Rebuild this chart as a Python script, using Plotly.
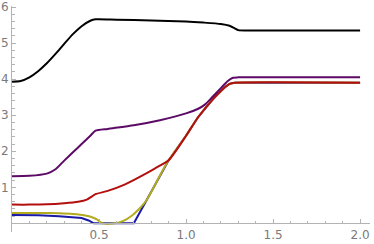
import plotly.graph_objects as go

# ---- data ----
x_blue = [0, 0.15, 0.27, 0.35, 0.4, 0.44, 0.47, 0.7, 0.77, 0.82, 0.86, 0.9, 1.0, 1.07, 1.15, 1.22, 1.25, 1.28, 2.0]
y_blue = [0.23, 0.225, 0.2, 0.18, 0.15, 0.08, 0.0, 0.0, 0.62, 1.05, 1.42, 1.75, 2.43, 2.95, 3.42, 3.76, 3.87, 3.9, 3.9]

x_yellow = [0, 0.15, 0.27, 0.35, 0.42, 0.46, 0.49, 0.52, 0.59, 0.64, 0.69, 0.73, 0.77, 0.82, 0.86, 0.9,
            1.0, 1.07, 1.15, 1.22, 1.25, 1.28, 2.0]
y_yellow = [0.29, 0.29, 0.28, 0.26, 0.22, 0.17, 0.1, 0.0, 0.0, 0.07, 0.22, 0.4, 0.62, 1.05, 1.42, 1.75,
            2.43, 2.95, 3.42, 3.76, 3.87, 3.9, 3.9]

x_red = [0, 0.1, 0.2, 0.3, 0.38, 0.43, 0.46, 0.48, 0.55, 0.65, 0.75, 0.82, 0.9, 1.0, 1.07, 1.15, 1.22, 1.25, 1.28, 2.0]
y_red = [0.52, 0.52, 0.53, 0.56, 0.6, 0.66, 0.75, 0.81, 0.9, 1.08, 1.33, 1.52, 1.75, 2.43, 2.95, 3.42, 3.76, 3.87, 3.9, 3.9]

x_purple = [0, 0.1, 0.2, 0.25, 0.3, 0.35, 0.4, 0.45, 0.48, 0.55, 0.7, 0.85, 1.0, 1.07, 1.11, 1.15, 1.2, 1.24, 1.27, 1.3, 2.0]
y_purple = [1.31, 1.32, 1.38, 1.5, 1.74, 1.97, 2.2, 2.43, 2.57, 2.62, 2.72, 2.86, 3.05, 3.18, 3.3, 3.5, 3.75, 3.95, 4.04, 4.05, 4.05]

x_black = [0, 0.05, 0.1, 0.15, 0.2, 0.25, 0.3, 0.35, 0.4, 0.45, 0.48, 0.6, 0.8, 1.0, 1.1, 1.2, 1.25, 1.28, 1.3, 1.35, 2.0]
y_black = [3.93, 3.95, 4.05, 4.22, 4.44, 4.7, 4.98, 5.25, 5.47, 5.62, 5.66, 5.65, 5.63, 5.6, 5.57, 5.53, 5.48, 5.41, 5.36, 5.35, 5.35]

x_tickvals = [0.5, 1.0, 1.5, 2.0]
x_ticktext = ["0.5", "1.0", "1.5", "2.0"]
y_tickvals = [1, 2, 3, 4, 5, 6]
y_ticktext = ["1", "2", "3", "4", "5", "6"]

series = [
    (x_blue, y_blue, "#1a1aa6", "linear"),
    (x_yellow, y_yellow, "#b3ab1f", "spline"),
    (x_red, y_red, "#b30f0f", "spline"),
    (x_purple, y_purple, "#5c0a66", "spline"),
    (x_black, y_black, "#000000", "spline"),
]

fig = go.Figure()
for xs, ys, col, shp in series:
    fig.add_trace(go.Scatter(x=xs, y=ys, mode="lines",
                             line=dict(color=col, width=2, shape=shp, smoothing=0.6)))

ymin, ymax = -0.24, 6.03
axcol = "#b3b3b3"
lblfont = dict(family="DejaVu Sans", size=12, color="#7a7a7a")

x_minor = [round(i * 0.1, 2) for i in range(1, 21) if i % 5 != 0]
y_minor = [round(i * 0.2, 2) for i in range(1, 31) if i % 5 != 0]

fig.update_layout(
    width=374, height=244,
    margin=dict(l=12, r=4, t=6, b=12),
    plot_bgcolor="white", paper_bgcolor="white",
    showlegend=False,
    xaxis=dict(range=[0, 2.057], showgrid=False, zeroline=False, automargin=False,
               showline=True, linecolor=axcol, linewidth=1,
               anchor="free", position=(0 - ymin) / (ymax - ymin),
               ticks="inside", ticklen=4, tickwidth=1, tickcolor=axcol,
               tickmode="array", tickvals=x_tickvals, ticktext=x_ticktext,
               tickfont=lblfont,
               minor=dict(tickmode="array", tickvals=x_minor, ticks="inside",
                          ticklen=2.5, tickcolor=axcol, tickwidth=1, showgrid=False)),
    yaxis=dict(range=[ymin, ymax], showgrid=False, zeroline=False, automargin=False,
               showline=True, linecolor=axcol, linewidth=1,
               ticks="inside", ticklen=4, tickwidth=1, tickcolor=axcol,
               tickmode="array", tickvals=y_tickvals, ticktext=y_ticktext,
               tickfont=lblfont,
               minor=dict(tickmode="array", tickvals=y_minor, ticks="inside",
                          ticklen=2.5, tickcolor=axcol, tickwidth=1, showgrid=False)),
)

fig.write_html("out.html", config={"displayModeBar": False},
               post_script="document.body.style.margin='0';document.body.style.padding='0';")
